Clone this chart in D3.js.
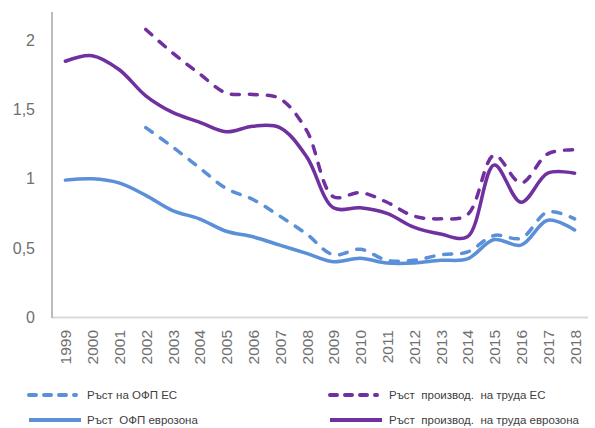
<!DOCTYPE html>
<html>
<head>
<meta charset="utf-8">
<script src="https://cdn.jsdelivr.net/npm/d3@7/dist/d3.min.js"></script>
<style>
  html, body { margin: 0; padding: 0; background: #fff; }
  svg { display: block; font-family: "Liberation Sans", Arial, sans-serif; }
  .leg { white-space: pre; }
</style>
</head>
<body>
<svg id="chart" width="595" height="428"></svg>
<script>
const years = ["1999","2000","2001","2002","2003","2004","2005","2006","2007","2008","2009","2010","2011","2012","2013","2014","2015","2016","2017","2018"];
const yTicks = [0, 0.5, 1, 1.5, 2];

// Ръст на ОФП ЕС (dashed blue)
const tfpEU = [null, null, null, 1.37, 1.23, 1.08, 0.93, 0.85, 0.73, 0.60, 0.45, 0.49, 0.41, 0.41, 0.45, 0.47, 0.59, 0.57, 0.76, 0.71];
// Ръст ОФП еврозона (solid blue)
const tfpEZ = [0.99, 1.00, 0.97, 0.88, 0.77, 0.71, 0.62, 0.58, 0.52, 0.46, 0.40, 0.425, 0.39, 0.39, 0.41, 0.42, 0.56, 0.52, 0.70, 0.63];
// Ръст производ. на труда ЕС (dashed purple)
const prodEU = [null, null, null, 2.08, 1.91, 1.76, 1.62, 1.61, 1.58, 1.35, 0.87, 0.90, 0.83, 0.73, 0.71, 0.74, 1.17, 0.97, 1.18, 1.21];
// Ръст производ. на труда еврозона (solid purple)
const prodEZ = [1.85, 1.89, 1.79, 1.60, 1.48, 1.41, 1.34, 1.38, 1.37, 1.16, 0.79, 0.79, 0.75, 0.65, 0.60, 0.58, 1.10, 0.83, 1.04, 1.04];

const seriesNames = ["Ръст на ОФП ЕС", "Ръст  производ.  на труда ЕС", "Ръст  ОФП еврозона", "Ръст  производ.  на труда еврозона"];

const BLUE = "#5b8fd8", PURPLE = "#7030a0";
const series = [
  { name: seriesNames[0], values: tfpEU, color: BLUE, dashed: true },
  { name: seriesNames[1], values: prodEU, color: PURPLE, dashed: true },
  { name: seriesNames[2], values: tfpEZ, color: BLUE, dashed: false },
  { name: seriesNames[3], values: prodEZ, color: PURPLE, dashed: false }
];

const svg = d3.select("#chart");
const mLeft = 52, mRight = 588, mTop = 40.5, mBottom = 317;

const x = d3.scalePoint().domain(years).range([mLeft, mRight]).padding(0.5);
const y = d3.scaleLinear().domain([0, 2]).range([mBottom, mTop]);

const locale = d3.formatLocale({ decimal: ",", thousands: " ", grouping: [3], currency: ["", ""] });
const fmt = locale.format(".1~f");

// axis lines
svg.append("line").attr("x1", mLeft).attr("x2", mRight).attr("y1", mBottom + 0.5).attr("y2", mBottom + 0.5)
  .attr("stroke", "#d9d9d9").attr("stroke-width", 2);
svg.append("line").attr("x1", mLeft).attr("x2", mLeft).attr("y1", 12).attr("y2", mBottom + 1)
  .attr("stroke", "#a6a6a6").attr("stroke-width", 1.5);

// y axis labels
const yAxis = svg.append("g").attr("transform", `translate(${mLeft},0)`)
  .call(d3.axisLeft(y).tickValues(yTicks).tickFormat(fmt).tickSize(0).tickPadding(17));
yAxis.select(".domain").remove();
yAxis.selectAll("text").attr("fill", "#6f6f6f").style("font-size", "16px")
  .style("font-family", "'Liberation Sans', Arial, sans-serif");

// x axis labels
const xAxis = svg.append("g").attr("transform", `translate(0,${mBottom})`)
  .call(d3.axisBottom(x).tickSize(0).tickPadding(0));
xAxis.select(".domain").remove();
xAxis.selectAll("text")
  .attr("fill", "#6f6f6f").style("font-size", "15.5px")
  .style("font-family", "'Liberation Sans', Arial, sans-serif")
  .attr("text-anchor", "end")
  .attr("dy", "0.35em")
  .attr("transform", "translate(0,13) rotate(-90)")
  .attr("x", 0).attr("y", 0);

// lines
const line = d3.line()
  .defined(d => d.v != null)
  .x(d => x(d.year))
  .y(d => y(d.v))
  .curve(d3.curveCatmullRom.alpha(0.5));

svg.append("g").selectAll("path").data(series).join("path")
  .attr("d", s => line(years.map((yr, i) => ({ year: yr, v: s.values[i] }))))
  .attr("fill", "none")
  .attr("stroke", s => s.color)
  .attr("stroke-width", 3.5)
  .attr("stroke-linecap", "round")
  .attr("stroke-linejoin", "round")
  .attr("stroke-dasharray", s => s.dashed ? "8,10" : null);

// legend
const legPos = [
  { sx: 27, tx: 87, ty: 395 },
  { sx: 328, tx: 389, ty: 395 },
  { sx: 27, tx: 87, ty: 420 },
  { sx: 328, tx: 389, ty: 420 }
];
const leg = svg.append("g").selectAll("g").data(series).join("g");
leg.append("line")
  .attr("x1", (s, i) => legPos[i].sx + 2)
  .attr("x2", (s, i) => s.dashed ? legPos[i].sx + 49 : legPos[i].sx + 54)
  .attr("y1", (s, i) => legPos[i].ty)
  .attr("y2", (s, i) => legPos[i].ty)
  .attr("stroke", s => s.color)
  .attr("stroke-width", 4)
  .attr("stroke-linecap", s => s.dashed ? "round" : "butt")
  .attr("stroke-dasharray", s => s.dashed ? "7,8" : null);
leg.append("text")
  .attr("class", "leg")
  .attr("x", (s, i) => legPos[i].tx)
  .attr("y", (s, i) => legPos[i].ty)
  .attr("dy", "0.35em")
  .attr("fill", "#404040")
  .style("font-size", "11.5px")
  .text(s => s.name);
</script>
</body>
</html>
